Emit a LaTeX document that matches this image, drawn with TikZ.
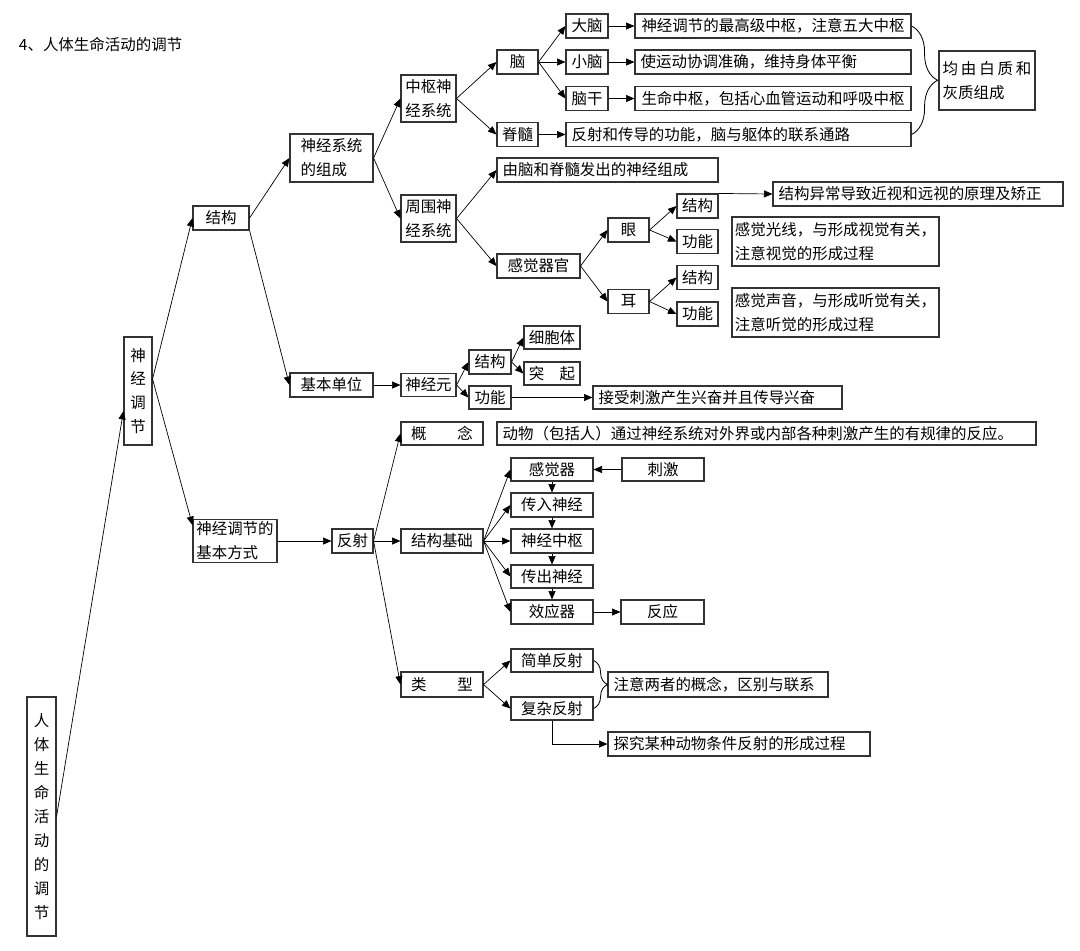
\documentclass[tikz,border=0pt]{standalone}
\usepackage{fontspec}
\setmainfont{Noto Sans CJK SC}
\usetikzlibrary{arrows.meta,decorations.pathreplacing,positioning}

\tikzset{
  box/.style={draw=black!80, line width=0.8pt, inner sep=0pt, font=\fontsize{11}{17}\selectfont},
  sz/.style 2 args={minimum width=#1*0.025cm, minimum height=#2*0.025cm},
  lsz/.style 2 args={text width=#1*0.025cm-8pt, minimum height=#2*0.025cm, align=left, inner xsep=4pt},
  conn/.style={-{Triangle[length=6pt,width=5pt]}, line width=0.5pt},
  brc/.style={decorate, decoration={brace, amplitude=#1}, line width=0.6pt}
}

\begin{document}
\begin{tikzpicture}[x=0.025cm, y=-0.025cm]
      \useasboundingbox (0,0) rectangle (1080,950);
      \node[anchor=west, font=\fontsize{11}{14}\selectfont] (title) at (14,45) {4、人体生命活动的调节};
      \node[box, sz={29}{239}, align=center] (body) at (41.5,816.5) {人\\体\\生\\命\\活\\动\\的\\调\\节};
      \node[box, sz={28}{108}, align=center] (nreg) at (138,391) {神\\经\\调\\节};
      \node[box, sz={56}{24}] (struc) at (221,218) {结构};
      \node[box, sz={84}{43}, align=left] (mode) at (235,541) {神经调节的\\基本方式};
      \node[box, sz={83}{48}, align=left] (comp) at (331.5,158) {神经系统\\的组成};
      \node[box, sz={83}{24}] (unit) at (331.5,385) {基本单位};
      \node[box, sz={55}{47}, align=left] (cns) at (428.5,98.5) {中枢神\\经系统};
      \node[box, sz={55}{47}, align=left] (pns) at (428.5,218.5) {周围神\\经系统};
      \node[box, sz={41}{24}] (brain) at (517.5,62) {脑};
      \node[box, sz={41}{24}] (cord) at (517.5,134.5) {脊髓};
      \node[box, sz={42}{24}] (cbr) at (587,26) {大脑};
      \node[box, sz={42}{24}] (cbl) at (587,62) {小脑};
      \node[box, sz={42}{24}] (stem) at (587,98.5) {脑干};
      \node[box, sz={276}{24}] (cbrT) at (773,26) {神经调节的最高级中枢，注意五大中枢};
      \node[box, lsz={276}{24}] (cblT) at (773,62) {使运动协调准确，维持身体平衡};
      \node[box, sz={276}{24}] (stemT) at (773,98.5) {生命中枢，包括心血管运动和呼吸中枢};
      \node[box, lsz={345}{24}] (cordT) at (738.5,134.5) {反射和传导的功能，脑与躯体的联系通路};
      \node[box, sz={96}{59}, align=left] (matter) at (987,80.5) {均\kern2pt 由\kern2pt 白\kern2pt 质\kern2pt 和\\灰质组成};
      \node[box, lsz={221}{24}] (nerves) at (607.5,170) {由脑和脊髓发出的神经组成};
      \node[box, sz={83}{24}] (organ) at (538.5,266) {感觉器官};
      \node[box, sz={41}{24}] (eye) at (628.5,230) {眼};
      \node[box, sz={41}{24}] (ear) at (628.5,301.5) {耳};
      \node[box, sz={41}{24}] (eyeS) at (697.5,206) {结构};
      \node[box, sz={41}{24}] (eyeF) at (697.5,241.5) {功能};
      \node[box, sz={41}{24}] (earS) at (697.5,277.5) {结构};
      \node[box, sz={41}{24}] (earF) at (697.5,314) {功能};
      \node[box, lsz={290}{24}] (myopia) at (918,194) {结构异常导致近视和远视的原理及矫正};
      \node[box, sz={207}{49}, align=left] (sight) at (835.5,241.5) {感觉光线，与形成视觉有关，\\注意视觉的形成过程};
      \node[box, sz={207}{49}, align=left] (hear) at (835.5,312.5) {感觉声音，与形成听觉有关，\\注意听觉的形成过程};
      \node[box, sz={55}{23}] (neuron) at (428.5,385) {神经元};
      \node[box, sz={42}{24}] (nS) at (490,362) {结构};
      \node[box, sz={42}{23}] (nF) at (490,397.5) {功能};
      \node[box, sz={56}{23}] (soma) at (552,337.5) {细胞体};
      \node[box, sz={56}{23}] (proc) at (552,373.5) {突\quad 起};
      \node[box, lsz={249}{23}] (func) at (717.5,397.5) {接受刺激产生兴奋并且传导兴奋};
      \node[box, sz={41}{24}] (reflex) at (352.5,541) {反射};
      \node[box, sz={82}{23}] (concept) at (442,433.5) {概\qquad 念};
      \node[box, lsz={539}{23}] (defn) at (766.5,433.5) {动物（包括人）通过神经系统对外界或内部各种刺激产生的有规律的反应。};
      \node[box, sz={82}{24}] (basis) at (442,541) {结构基础};
      \node[box, sz={82}{23}] (recep) at (552,469.5) {感觉器};
      \node[box, sz={82}{24}] (aff) at (552,505) {传入神经};
      \node[box, sz={82}{24}] (ctr) at (552,541) {神经中枢};
      \node[box, sz={82}{23}] (eff) at (552,576.5) {传出神经};
      \node[box, sz={82}{24}] (effr) at (552,612) {效应器};
      \node[box, sz={82}{23}] (stim) at (663,469.5) {刺激};
      \node[box, sz={83}{24}] (resp) at (662.5,612) {反应};
      \node[box, sz={82}{25}] (kind) at (442,684.5) {类\qquad 型};
      \node[box, sz={82}{23}] (simple) at (552,660.5) {简单反射};
      \node[box, sz={82}{23}] (complex) at (552,708.5) {复杂反射};
      \node[box, lsz={220}{25}] (note) at (718,684.5) {注意两者的概念，区别与联系};
      \node[box, lsz={262}{24}] (explore) at (739,744) {探究某种动物条件反射的形成过程};
      \draw[conn] (body.east) -- ([yshift=-0.5cm]nreg.west);
      \draw[conn] ([yshift=0.3cm]nreg.east) -- (struc.west);
      \draw[conn] ([yshift=0.3cm]nreg.east) -- ([yshift=0.4cm]mode.west);
      \draw[conn] (struc.east) -- (comp.west);
      \draw[conn] (struc.south east) -- (unit.west);
      \draw[conn] (comp.east) -- (cns.west);
      \draw[conn] (comp.east) -- (pns.west);
      \draw[conn] (cns.east) -- (brain.west);
      \draw[conn] (cns.east) -- (cord.west);
      \draw[conn] (brain.east) -- (cbr.west);
      \draw[conn] (brain.east) -- (cbl.west);
      \draw[conn] (brain.east) -- (stem.west);
      \draw[conn] (cbr) -- (cbrT);
      \draw[conn] (cbl) -- (cblT);
      \draw[conn] (stem) -- (stemT);
      \draw[conn] (cord) -- (cordT);
      \draw[brc=0.65cm] (cbrT.east) -- (cordT.east);
      \draw[conn] (pns.east) -- (nerves.west);
      \draw[conn] (pns.east) -- (organ.west);
      \draw[conn] (organ.east) -- (eye.west);
      \draw[conn] (organ.east) -- (ear.west);
      \draw[conn] (eye.east) -- (eyeS.west);
      \draw[conn] (eye.east) -- (eyeF.west);
      \draw[conn] (ear.east) -- (earS.west);
      \draw[conn] (ear.east) -- (earF.west);
      \draw[conn] (eyeS.north east) -- (myopia.west);
      \draw[conn] (unit) -- (neuron);
      \draw[conn] (neuron.east) -- (nS.west);
      \draw[conn] (neuron.east) -- (nF.west);
      \draw[conn] (nS.east) -- (soma.west);
      \draw[conn] (nS.east) -- (proc.west);
      \draw[conn] (nF) -- (func);
      \draw[conn] (mode) -- (reflex);
      \draw[conn] (reflex.east) -- (concept.west);
      \draw[conn] (reflex.east) -- (basis.west);
      \draw[conn] (reflex.east) -- (kind.west);
      \draw[conn] (basis.east) -- (recep.west);
      \draw[conn] (basis.east) -- (aff.west);
      \draw[conn] (basis.east) -- (ctr.west);
      \draw[conn] (basis.east) -- (eff.west);
      \draw[conn] (basis.east) -- (effr.west);
      \draw[conn] (recep) -- (aff);
      \draw[conn] (aff) -- (ctr);
      \draw[conn] (ctr) -- (eff);
      \draw[conn] (eff) -- (effr);
      \draw[conn] (stim) -- (recep);
      \draw[conn] (effr) -- (resp);
      \draw[conn] (kind.east) -- (simple.west);
      \draw[conn] (kind.east) -- (complex.west);
      \draw[brc=0.35cm] (simple.east) -- (complex.east);
      \draw[conn] (complex.south) |- (explore.west);
\end{tikzpicture}
\end{document}
